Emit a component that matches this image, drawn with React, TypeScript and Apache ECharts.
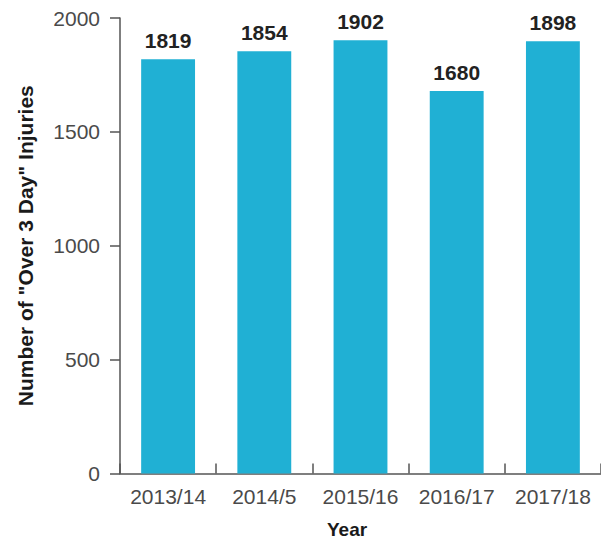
import React, { useEffect, useRef } from "react";
import * as echarts from "echarts";

const categories = ["2013/14", "2014/5", "2015/16", "2016/17", "2017/18"];
const injuries = [1819, 1854, 1902, 1680, 1898];
const yTicks = [0, 500, 1000, 1500, 2000];

export default function App() {
  const ref = useRef<HTMLDivElement>(null);
  useEffect(() => {
    if (!ref.current) return;
    const chart = echarts.init(ref.current, undefined, { renderer: "svg" });
    const font = "'Liberation Sans', Arial, sans-serif";
    chart.setOption({
      animation: false,
      backgroundColor: "#ffffff",
      grid: { left: 120, right: -4, top: 18, bottom: 70.5, containLabel: false },
      xAxis: {
        type: "category",
        data: categories,
        axisLine: { show: true, lineStyle: { color: "#555", width: 1.5 } },
        axisTick: { show: true, inside: true, length: 10, lineStyle: { color: "#555", width: 1.5 } },
        axisLabel: { color: "#4a4a4a", fontSize: 21, fontFamily: font, margin: 12, interval: 0 },
        splitLine: { show: false },
      },
      yAxis: {
        type: "value",
        min: yTicks[0],
        max: yTicks[yTicks.length - 1],
        interval: 500,
        name: 'Number of "Over 3 Day" Injuries',
        nameLocation: "middle",
        nameGap: 84,
        nameTextStyle: { color: "#1a1a1a", fontSize: 21, fontWeight: "bold", fontFamily: font },
        axisLine: { show: true, lineStyle: { color: "#555", width: 1.5 } },
        axisTick: { show: true, inside: false, length: 10, lineStyle: { color: "#555", width: 1.5 } },
        axisLabel: {
          color: "#4a4a4a",
          fontSize: 21,
          fontFamily: font,
          margin: 20,
          formatter: (v: number) => String(v),
        },
        splitLine: { show: false },
      },
      graphic: [
        {
          type: "text",
          left: 327,
          top: 520,
          style: {
            text: "Year",
            fontSize: 19,
            fontWeight: "bold",
            fontFamily: font,
            fill: "#1a1a1a",
          },
        },
      ],
      series: [
        {
          type: "bar",
          data: injuries,
          barWidth: "56%",
          itemStyle: { color: "#20b0d4" },
          label: {
            show: true,
            position: "top",
            distance: 8,
            color: "#222",
            fontSize: 21,
            fontWeight: "bold",
            fontFamily: font,
          },
        },
      ],
    });
    return () => chart.dispose();
  }, []);
  return (
    <div
      ref={ref}
      style={{ position: "fixed", left: 0, top: 0, width: 601, height: 544, background: "#fff" }}
    />
  );
}
